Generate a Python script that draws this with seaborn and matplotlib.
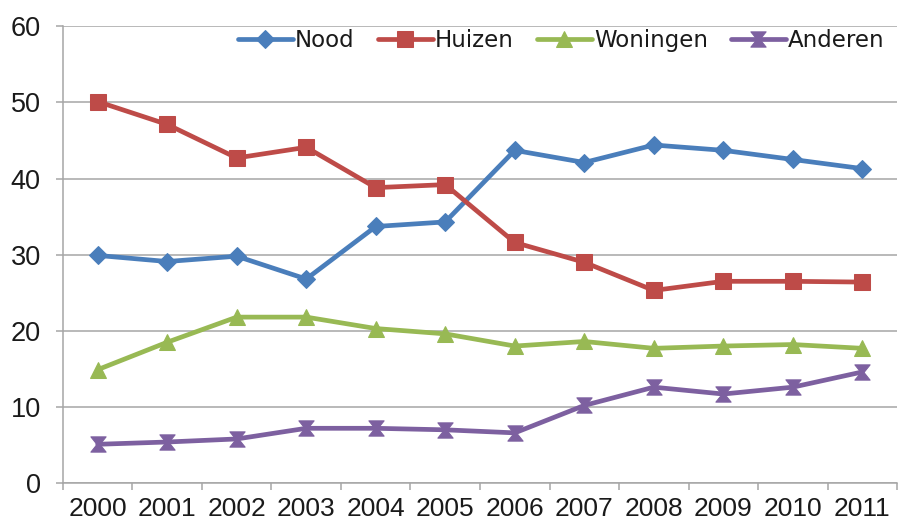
import numpy as np
import pandas as pd
import matplotlib
matplotlib.use('Agg')
import matplotlib.pyplot as plt
from matplotlib.path import Path
from matplotlib.ticker import FixedLocator
import seaborn as sns

# data
years = ['2000', '2001', '2002', '2003', '2004', '2005',
         '2006', '2007', '2008', '2009', '2010', '2011']
nood = [29.9, 29.1, 29.8, 26.8, 33.7, 34.3, 43.7, 42.1, 44.4, 43.7, 42.5, 41.3]
huizen = [50.1, 47.1, 42.7, 44.1, 38.8, 39.2, 31.6, 29.0, 25.3, 26.5, 26.5, 26.4]
woningen = [14.9, 18.5, 21.8, 21.8, 20.3, 19.6, 18.0, 18.6, 17.7, 18.0, 18.2, 17.7]
anderen = [5.1, 5.4, 5.8, 7.2, 7.2, 7.0, 6.6, 10.2, 12.6, 11.7, 12.6, 14.6]

series = {'Nood': nood, 'Huizen': huizen, 'Woningen': woningen, 'Anderen': anderen}
colors = {'Nood': '#4A7EBB', 'Huizen': '#BE4B48', 'Woningen': '#98B954', 'Anderen': '#7D60A0'}

# hourglass marker like the Excel one
hourglass = Path([(-1, 1), (1, 1), (0.2, 0), (1, -1), (-1, -1), (-0.2, 0), (-1, 1)],
                 [Path.MOVETO, Path.LINETO, Path.LINETO, Path.LINETO,
                  Path.LINETO, Path.LINETO, Path.CLOSEPOLY])
markers = {'Nood': 'D', 'Huizen': 's', 'Woningen': '^', 'Anderen': hourglass}
msizes = {'Nood': 9.5, 'Huizen': 12, 'Woningen': 12, 'Anderen': 11}

rows = []
for name, vals in series.items():
    for i, v in enumerate(vals):
        rows.append({'pos': i, 'value': v, 'serie': name})
df = pd.DataFrame(rows)

sns.set_style('white')
plt.rcParams['font.family'] = ['Liberation Sans', 'DejaVu Sans']

fig = plt.figure(figsize=(9.02, 5.24), dpi=100)
ax = fig.add_axes([0.0698, 0.078, 0.9247, 0.872])

for name in series:
    sub = df[df['serie'] == name]
    sns.lineplot(data=sub, x='pos', y='value', ax=ax, color=colors[name],
                 linewidth=3.4, marker=markers[name], markersize=msizes[name],
                 markeredgecolor=colors[name], label=name)

ax.set_xlim(-0.5, len(years) - 0.5)
ax.set_ylim(0, 60)
ax.set_yticks(np.arange(0, 61, 10))
ax.set_xticks(np.arange(len(years)))
ax.set_xticklabels(years)
ax.xaxis.set_minor_locator(FixedLocator(np.arange(-0.5, len(years), 1.0)))
ax.set_xlabel('')
ax.set_ylabel('')

ax.yaxis.grid(True, color='#A6A6A6', linewidth=1.1)
ax.set_axisbelow(True)
for s in ['top', 'right']:
    ax.spines[s].set_visible(False)
for s in ['left', 'bottom']:
    ax.spines[s].set_color('#A6A6A6')
    ax.spines[s].set_linewidth(1.1)

ax.tick_params(axis='y', which='major', direction='out', length=5, width=1.1,
               color='#A6A6A6', labelsize=19.5, pad=11, left=True, labelcolor='#1a1a1a')
ax.tick_params(axis='x', which='major', length=0, labelsize=19, pad=10, labelcolor='#1a1a1a')
ax.tick_params(axis='x', which='minor', direction='out', length=5, width=1.1,
               color='#A6A6A6', bottom=True)

leg = ax.legend(loc='upper right', bbox_to_anchor=(1.01, 1.04), ncol=4, frameon=False,
                handlelength=2.4, handletextpad=0.1, columnspacing=1.0,
                prop={'family': 'DejaVu Sans', 'size': 16.5})
for t in leg.get_texts():
    t.set_color('#1a1a1a')

fig.savefig('out.png', dpi=100)
